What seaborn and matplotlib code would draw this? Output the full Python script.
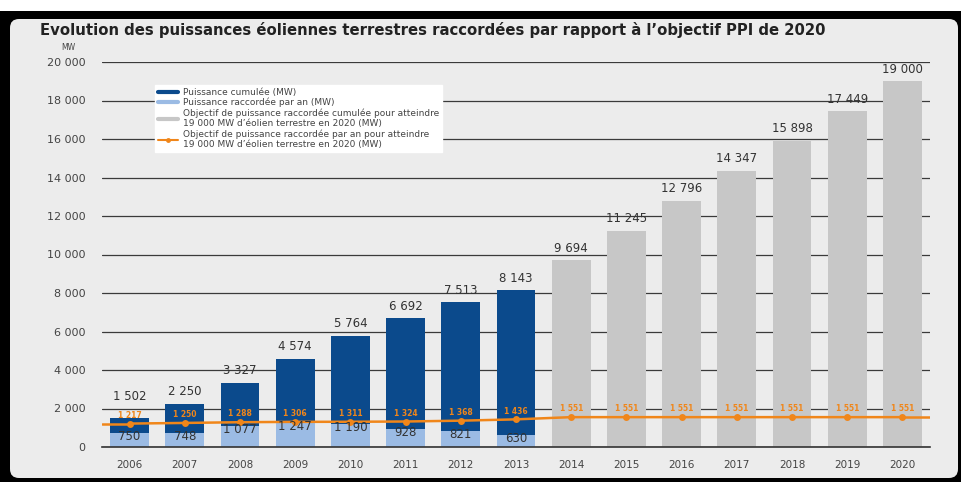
import numpy as np
import pandas as pd
import matplotlib
matplotlib.use("Agg")
import matplotlib.pyplot as plt
import seaborn as sns
from matplotlib.patches import FancyBboxPatch, Rectangle
from matplotlib.transforms import IdentityTransform
from matplotlib.lines import Line2D
from matplotlib.ticker import FuncFormatter, FixedLocator

# ---------------- data ----------------
years_all = [str(y) for y in range(2006, 2021)]
years_hist = years_all[:8]
years_target = years_all[8:]
cumul_hist = [1502, 2250, 3327, 4574, 5764, 6692, 7513, 8143]
annual_hist = [750, 748, 1077, 1247, 1190, 928, 821, 630]
cumul_target = [9694, 11245, 12796, 14347, 15898, 17449, 19000]
annual_objective = [1217, 1250, 1288, 1306, 1311, 1324, 1368, 1436,
                    1551, 1551, 1551, 1551, 1551, 1551, 1551]
y_ticks = list(range(0, 20001, 2000))

title = "Evolution des puissances éoliennes terrestres raccordées par rapport à l’objectif PPI de 2020"
legend_labels = [
    "Puissance cumulée (MW)",
    "Puissance raccordée par an (MW)",
    "Objectif de puissance raccordée cumulée pour atteindre\n19 000 MW d’éolien terrestre en 2020 (MW)",
    "Objectif de puissance raccordée par an pour atteindre\n19 000 MW d’éolien terrestre en 2020 (MW)",
]

# ---------------- style ----------------
DARK = "#0b4a8c"
LIGHT = "#9bbbe4"
GREY = "#c7c7c7"
ORANGE = "#f0861a"
PANEL = "#ececec"
TXT = "#333333"

sns.set_theme(style="white")
plt.rcParams["font.family"] = ["DejaVu Sans"]

W, H = 962, 482
fig = plt.figure(figsize=(W / 100, H / 100), dpi=100)
fig.patch.set_facecolor("white")

# frame: black band + light grey rounded panel (display coords)
fig.patches.append(Rectangle((0, 0), W, H - 11, transform=IdentityTransform(),
                             facecolor="black", edgecolor="none", zorder=-10))
fig.patches.append(FancyBboxPatch((10, 4), 948, 459, transform=IdentityTransform(),
                                  boxstyle="round,pad=0,rounding_size=9",
                                  facecolor=PANEL, edgecolor="none", zorder=-9))

ax = fig.add_axes([102 / W, 35 / H, 828 / W, 385 / H])
ax.set_facecolor("none")

df_hist = pd.DataFrame({"year": years_hist, "cumul": cumul_hist, "annual": annual_hist})
df_target = pd.DataFrame({"year": years_target, "cumul": cumul_target})

bw = 0.7
common = dict(order=years_all, saturation=1, width=bw, ax=ax, linewidth=0, edgecolor="none")
sns.barplot(data=df_target, x="year", y="cumul", color=GREY, zorder=2, **common)
sns.barplot(data=df_hist, x="year", y="cumul", color=DARK, zorder=2, **common)
sns.barplot(data=df_hist, x="year", y="annual", color=LIGHT, zorder=3, **common)

# objective line
xpos = np.arange(len(years_all))
sns.lineplot(x=xpos, y=annual_objective, color=ORANGE, lw=1.8, marker="o",
             markersize=5, markeredgewidth=0, ax=ax, zorder=5)
ax.plot([-0.5, xpos[0]], [annual_objective[0]] * 2, color=ORANGE, lw=1.8, zorder=5)
ax.plot([xpos[-1], len(years_all) - 0.5], [annual_objective[-1]] * 2, color=ORANGE, lw=1.8, zorder=5)

def fmt(v):
    return f"{v:,.0f}".replace(",", " ")

# labels
cumul_all = cumul_hist + cumul_target
for i, v in enumerate(cumul_all):
    ax.annotate(fmt(v), (i, max(v, 2000)), xytext=(0, 4), textcoords="offset points",
                ha="center", va="bottom", fontsize=8.5, color=TXT, zorder=6)
for i, v in enumerate(annual_hist):
    ax.text(i, v - 180, fmt(v), ha="center", va="center", fontsize=8.5,
            color=TXT, zorder=6)
for i, v in enumerate(annual_objective):
    ax.annotate(fmt(v), (i, v), xytext=(0, 6), textcoords="offset points",
                ha="center", va="center", fontsize=5.5, color=ORANGE,
                fontweight="bold", zorder=6)

# axes
ax.set_xlim(-0.5, len(years_all) - 0.5)
ax.set_ylim(0, 20000)
ax.set_yticks(y_ticks)
ax.yaxis.set_major_formatter(FuncFormatter(lambda v, p: fmt(v)))
ax.set_xlabel("")
ax.set_ylabel("")
ax.yaxis.grid(True, color="#3a3a3a", lw=0.9)
ax.set_axisbelow(True)
for s in ["top", "right", "left"]:
    ax.spines[s].set_visible(False)
ax.spines["bottom"].set_color("#333333")
ax.spines["bottom"].set_linewidth(1.2)
ax.spines["bottom"].set_zorder(7)
ax.tick_params(axis="y", length=0, pad=12, labelsize=8, labelcolor="#444444")
ax.tick_params(axis="x", which="major", length=0, pad=9, labelsize=7.5, labelcolor="#444444")
ax.xaxis.set_minor_locator(FixedLocator(np.arange(-0.5, len(years_all), 1.0)))
ax.tick_params(axis="x", which="minor", length=3, width=1, color="#333333", direction="out")

# legend
handles = [
    Line2D([], [], color=DARK, lw=3),
    Line2D([], [], color=LIGHT, lw=3),
    Line2D([], [], color=GREY, lw=3),
    Line2D([], [], color=ORANGE, lw=1.5, marker="o", markersize=3.5, markeredgewidth=0),
]
leg = ax.legend(handles, legend_labels, loc="upper left", bbox_to_anchor=(0.058, 0.953),
                fontsize=6.5, frameon=True, fancybox=False, framealpha=1,
                facecolor="white", edgecolor="white", labelspacing=0.12,
                handlelength=2.2, handletextpad=0.6, borderpad=0.35, labelcolor="#444444")
leg.set_zorder(8)

fig.text(40 / W, 1 - 30 / H, title, ha="left", va="center", fontsize=10.7,
         fontweight="bold", color="#222222")
fig.text(68 / W, 1 - 47 / H, "MW", ha="center", va="center", fontsize=5.5, color="#444444")

fig.savefig("out.png", dpi=100, facecolor=fig.get_facecolor())
